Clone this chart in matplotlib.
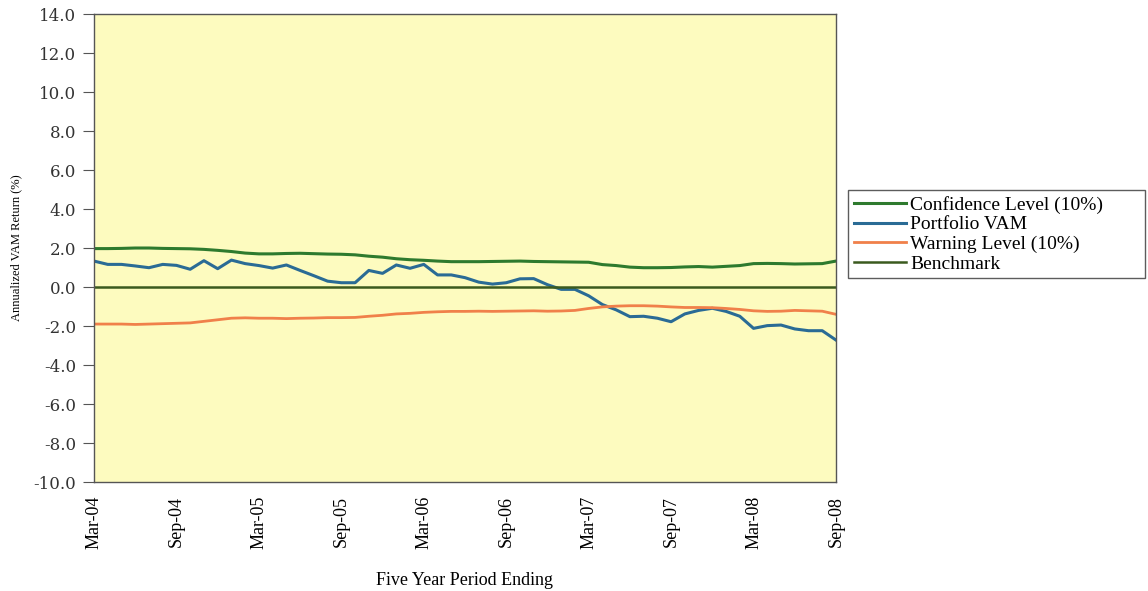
import numpy as np
import matplotlib.pyplot as plt

# monthly observations, Mar-04 .. Sep-08
months = np.arange(55)
tick_pos = np.arange(0, 55, 6)
tick_labels = ["Mar-04", "Sep-04", "Mar-05", "Sep-05", "Mar-06",
               "Sep-06", "Mar-07", "Sep-07", "Mar-08", "Sep-08"]

confidence = [1.97, 1.97, 1.98, 2.00, 2.00, 1.98, 1.97, 1.96, 1.93, 1.88,
              1.82, 1.74, 1.70, 1.70, 1.72, 1.73, 1.71, 1.69, 1.68, 1.65,
              1.58, 1.53, 1.45, 1.40, 1.37, 1.33, 1.30, 1.30, 1.30, 1.31,
              1.32, 1.33, 1.31, 1.30, 1.29, 1.28, 1.27, 1.15, 1.10, 1.02,
              0.99, 0.99, 1.00, 1.03, 1.05, 1.02, 1.06, 1.10, 1.20, 1.21,
              1.20, 1.18, 1.19, 1.20, 1.33]

portfolio = [1.33, 1.16, 1.16, 1.08, 0.99, 1.16, 1.11, 0.91, 1.35, 0.94,
             1.38, 1.20, 1.10, 0.97, 1.13, 0.85, 0.58, 0.30, 0.22, 0.22,
             0.85, 0.70, 1.13, 0.96, 1.16, 0.62, 0.62, 0.48, 0.25, 0.15,
             0.22, 0.42, 0.43, 0.12, -0.12, -0.12, -0.45, -0.90, -1.17, -1.52,
             -1.50, -1.60, -1.78, -1.38, -1.20, -1.09, -1.25, -1.50, -2.12, -1.98,
             -1.95, -2.15, -2.24, -2.24, -2.72]

warning = [-1.90, -1.90, -1.90, -1.92, -1.90, -1.88, -1.86, -1.84, -1.76, -1.68,
           -1.60, -1.58, -1.60, -1.60, -1.62, -1.60, -1.59, -1.57, -1.57, -1.56,
           -1.50, -1.45, -1.38, -1.35, -1.30, -1.27, -1.25, -1.25, -1.24, -1.25,
           -1.24, -1.23, -1.22, -1.24, -1.23, -1.20, -1.10, -1.02, -0.98, -0.96,
           -0.96, -0.98, -1.02, -1.05, -1.05, -1.06, -1.10, -1.15, -1.22, -1.25,
           -1.24, -1.20, -1.22, -1.24, -1.40]

benchmark = [0.0] * 55

plt.rcParams['font.family'] = ['Liberation Serif', 'DejaVu Serif']

fig = plt.figure(figsize=(11.48, 5.91), dpi=100)
ax = fig.add_axes([0.0819, 0.1844, 0.6463, 0.7919])
ax.set_facecolor('#fdfbbf')

ax.plot(months, confidence, color='#2e7a2e', lw=2.2, label='Confidence Level (10%)')
ax.plot(months, portfolio, color='#2a6b95', lw=2.2, label='Portfolio VAM')
ax.plot(months, warning, color='#f0804a', lw=2.0, label='Warning Level (10%)')
ax.plot(months, benchmark, color='#3b5a1e', lw=1.8, label='Benchmark')

ax.set_xlim(0, 54)
ax.set_ylim(-10, 14)
yt = np.arange(-10, 15, 2)
ax.set_yticks(yt)
ax.set_yticklabels([f"{v:.1f}" for v in yt], fontsize=12,
                   family=['DejaVu Serif'], color='#333333')
ax.set_xticks(tick_pos)
ax.set_xticklabels(tick_labels, rotation=90, fontsize=13)
ax.tick_params(axis='y', direction='out', length=8, pad=5, color='#555555')
ax.tick_params(axis='x', length=0, pad=10)
for s in ax.spines.values():
    s.set_color('#555555')
    s.set_linewidth(1.0)

ax.set_ylabel("Annualized VAM Return (%)", fontsize=9, labelpad=8)
ax.set_xlabel("Five Year Period Ending", fontsize=13, labelpad=16)

leg = fig.legend(loc='upper left', bbox_to_anchor=(0.7387, 0.5, 0.2587, 0.1785),
                 mode='expand', fontsize=14,
                 frameon=True, fancybox=False, handlelength=2.7,
                 handletextpad=0.2, labelspacing=0.1, borderpad=0.3,
                 borderaxespad=0)
leg.get_frame().set_edgecolor('#333333')
leg.get_frame().set_linewidth(1.0)

fig.savefig("out.png", dpi=100)
